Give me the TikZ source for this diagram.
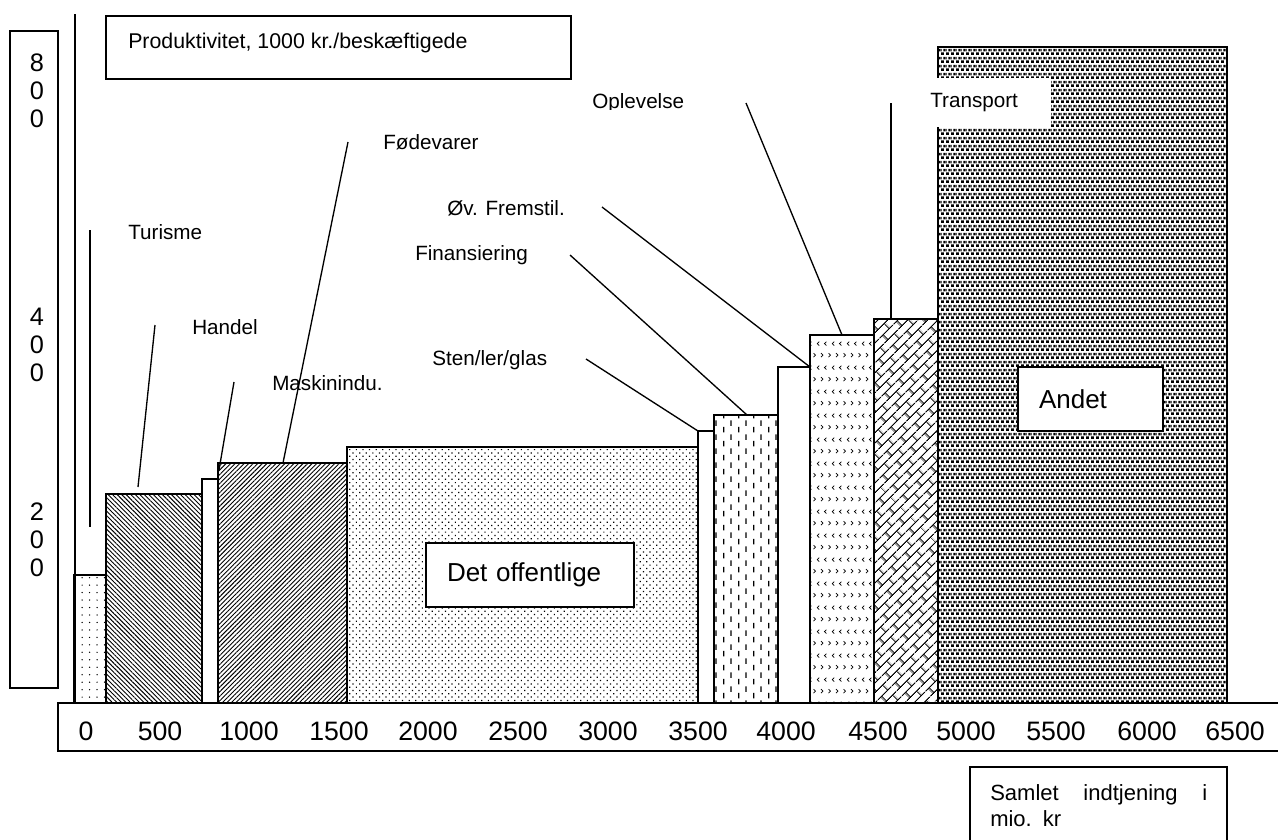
\documentclass[tikz,border=0pt]{standalone}
\usepackage{fontspec}
\setmainfont{Liberation Sans}
\usetikzlibrary{patterns,patterns.meta}

\tikzdeclarepattern{
  name=vdashes, type=uncolored,
  bounding box={(0pt,0pt) and (11.5pt,10.5pt)},
  tile size={(11.5pt,10.5pt)},
  code={
    \draw[line width=1pt] (2.9pt,0.5pt) -- (2.9pt,4.9pt);
    \draw[line width=1pt] (8.6pt,5.8pt) -- (8.6pt,10.2pt);
  }
}
\tikzdeclarepattern{
  name=chevrons, type=uncolored,
  bounding box={(0pt,0pt) and (11.5pt,18pt)},
  tile size={(11.5pt,18pt)},
  code={
    \draw[line width=0.55pt] (1.2pt,1.5pt) -- (2.7pt,3pt) -- (1.2pt,4.5pt);
    \draw[line width=0.55pt] (6.95pt,1.5pt) -- (8.45pt,3pt) -- (6.95pt,4.5pt);
    \draw[line width=0.55pt] (5.6pt,10.5pt) -- (4.1pt,12pt) -- (5.6pt,13.5pt);
    \draw[line width=0.55pt] (11.1pt,10.5pt) -- (9.6pt,12pt) -- (11.1pt,13.5pt);
  }
}
\tikzdeclarepattern{
  name=diagbricks, type=uncolored,
  bounding box={(0pt,0pt) and (15pt,11pt)},
  tile size={(15pt,11pt)},
  tile transformation={rotate=45},
  code={
    \draw[line width=0.9pt] (0pt,0.5pt) -- (15pt,0.5pt) (0pt,6pt) -- (15pt,6pt);
    \draw[line width=0.9pt] (3.5pt,0.5pt) -- (3.5pt,6pt) (11pt,6pt) -- (11pt,11pt) (11pt,0pt) -- (11pt,0.5pt);
  }
}
\tikzdeclarepattern{
  name=blocks, type=uncolored,
  bounding box={(0pt,0pt) and (3.6pt,6pt)},
  tile size={(3.6pt,6pt)},
  code={
    \fill (0pt,0pt) rectangle (2.25pt,2.25pt);
    \fill (1.8pt,3pt) rectangle (3.6pt,5.25pt);
    \fill (0pt,3pt) rectangle (0.45pt,5.25pt);
  }
}

\begin{document}
\begin{tikzpicture}[x=0.75pt,y=-0.75pt,
  bar/.style={draw,line width=1.2pt},
  lead/.style={line width=1pt},
  lbl/.style={font=\fontsize{15.5}{18}\selectfont,anchor=west,inner sep=0pt},
  bigbox/.style={draw,fill=white,line width=1.1pt,font=\fontsize{19.5}{23}\selectfont,
    minimum height=48pt,inner xsep=15.75pt,align=left}]
\useasboundingbox (0,0) rectangle (1278,839);
\clip (0,0) rectangle (1278,839);

\draw[line width=1.1pt] (10,31) rectangle (58,688);
\foreach \d/\yy [count=\i] in {8/63,0/91,0/119,4/317,0/345,0/373,2/512,0/540,0/568}
  \node[font=\fontsize{19}{22}\selectfont,inner sep=0pt] (y\i) at (37,\yy) {\d};

\draw[line width=1.1pt] (106,16) rectangle (571,79);
\node[lbl,font=\fontsize{16}{19}\selectfont] (title) at (128,43) {Produktivitet, 1000 kr./beskæftigede};

\draw[line width=1.1pt] (75,14) -- (75,703);

\draw[bar,pattern={Dots[radius=0.55pt,distance=5.6pt]}] (74,703) rectangle (106,575);
\draw[bar,pattern={Lines[angle=-45,distance=2.4pt,line width=0.7pt]}] (106,703) rectangle (202,494);
\draw[bar] (202,703) rectangle (218,479);
\draw[bar,pattern={Lines[angle=45,distance=2.4pt,line width=0.7pt]}] (218,703) rectangle (347,463);
\draw[bar,pattern={Dots[radius=0.65pt,distance=3.5pt,angle=45]}] (347,703) rectangle (698,447);
\draw[bar] (698,703) rectangle (714,431);
\draw[bar,pattern=vdashes] (714,703) rectangle (778,415);
\draw[bar] (778,703) rectangle (810,367);
\draw[bar,pattern=chevrons] (810,703) rectangle (874,335);
\draw[bar,pattern=diagbricks] (874,703) rectangle (938,319);
\draw[bar,pattern=blocks] (938,703) rectangle (1227,47);

\draw[line width=1.1pt] (58,703) rectangle (1300,751);
\foreach \v/\xx in {0/86,500/160,1000/249,1500/339,2000/428,2500/518,3000/608,3500/698,4000/786,4500/878,5000/966,5500/1056,6000/1147,6500/1235}
  \node[font=\fontsize{20}{24}\selectfont,anchor=base,inner sep=0pt] (x\v) at (\xx,740) {\v};

\node[lbl] (turisme) at (128,232) {Turisme};
\node[lbl] (handel) at (192,327) {Handel};
\node[lbl] (maskin) at (272,383) {Maskinindu.};
\node[lbl] (fode) at (383,142) {Fødevarer};
\node[lbl] (ovfrem) at (447,208) {Øv. Fremstil.};
\node[lbl] (finans) at (415,255) {Finansiering};
\node[lbl] (sten) at (432,360) {Sten/ler/glas};
\begin{scope}
  \clip (580,80) rectangle (700,109.5);
  \node[lbl] (oplev) at (592,103) {Oplevelse};
\end{scope}
\fill[white] (905,78) rectangle (1051,127);
\node[lbl] (transport) at (930,103) {Transport};

\coordinate (turismeA) at (90,230);   \coordinate (turismeB) at (90,527);
\coordinate (handelA) at (155,325);   \coordinate (handelB) at (138,487);
\coordinate (maskinA) at (234,382);   \coordinate (maskinB) at (219,470);
\coordinate (fodeA) at (348,142);     \coordinate (fodeB) at (283,463);
\coordinate (stenA) at (586,359);     \coordinate (stenB) at (698,431);
\coordinate (finansA) at (570,255);   \coordinate (finansB) at (747,415);
\coordinate (ovfremA) at (602,207);   \coordinate (ovfremB) at (810,367);
\coordinate (oplevA) at (746,103);    \coordinate (oplevB) at (842,335);
\coordinate (transA) at (891,103);    \coordinate (transB) at (891,319);
\draw[lead] (turismeA) -- (turismeB);
\draw[lead] (handelA) -- (handelB);
\draw[lead] (maskinA) -- (maskinB);
\draw[lead] (fodeA) -- (fodeB);
\draw[lead] (stenA) -- (stenB);
\draw[lead] (finansA) -- (finansB);
\draw[lead] (ovfremA) -- (ovfremB);
\draw[lead] (oplevA) -- (oplevB);
\draw[lead] (transA) -- (transB);

\node[bigbox,minimum width=156pt,text width=124.5pt] (offentlig) at (530,575) {Det offentlige};
\node[bigbox,minimum width=108.75pt,text width=77.25pt] (andet) at (1090.5,399) {Andet};

\draw[line width=1.1pt] (970,850) -- (970,767) -- (1227,767) -- (1227,850);
\node[font=\fontsize{16.5}{19.5}\selectfont,anchor=north west,inner sep=0pt,text width=162.75pt,align=left] (samlet) at (990,784) {Samlet\hfill indtjening\hfill i\\mio. kr};
\end{tikzpicture}
\end{document}
